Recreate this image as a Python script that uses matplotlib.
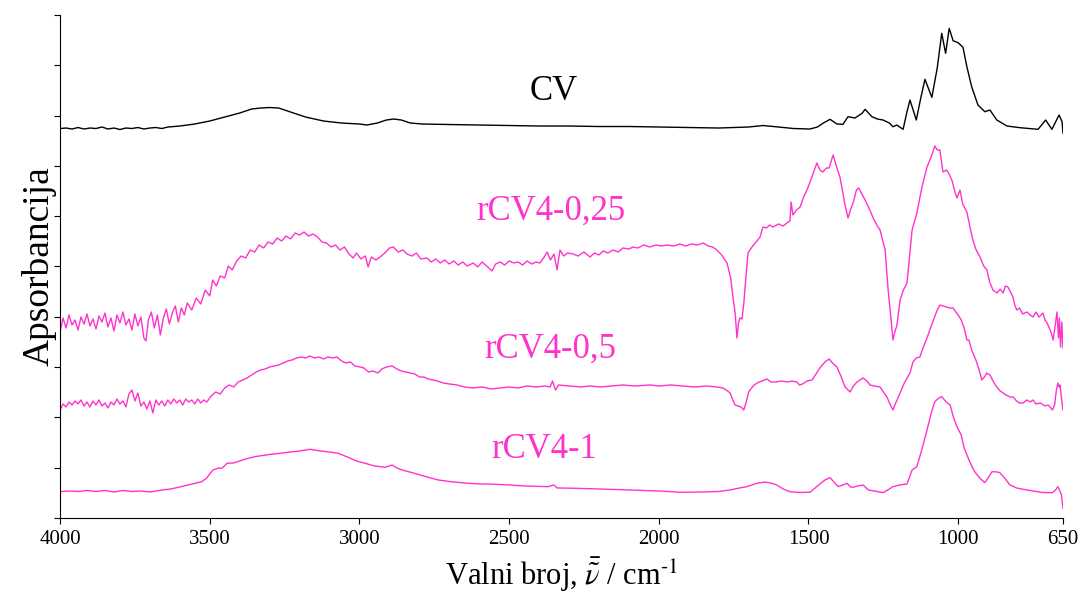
import numpy as np
import matplotlib
matplotlib.use("Agg")
import matplotlib.pyplot as plt

plt.rcParams['font.family'] = ['Liberation Serif', 'DejaVu Serif']
plt.rcParams['mathtext.fontset'] = 'stix'

# wavenumbers (cm-1) and stacked absorbance (arbitrary units, offsets included)
cv_wn = [4000, 3980, 3960, 3940, 3920, 3900, 3880, 3860, 3840, 3820, 3800, 3780, 3760, 3740,
         3720, 3700, 3680, 3660, 3640, 3600, 3550, 3500, 3450, 3400, 3360, 3330, 3300, 3270,
         3230, 3180, 3120, 3060, 3000, 2975, 2940, 2910, 2885, 2860, 2830, 2790, 2700, 2600,
         2500, 2400, 2300, 2200, 2100, 2000, 1900, 1800, 1700, 1652, 1600, 1550, 1495, 1470,
         1452, 1428, 1405, 1385, 1368, 1345, 1321, 1311, 1288, 1270, 1251, 1230, 1218, 1205,
         1184, 1172, 1161, 1140, 1125, 1111, 1088, 1070, 1055, 1042, 1030, 1017, 1000, 984,
         971, 955, 934, 911, 894, 871, 837, 793, 733, 708, 687, 663, 653, 650]
cv_a = [389.5, 390, 389, 390.5, 389, 390, 389.5, 391, 389, 390, 388.5, 390, 389.5, 390.5,
        389, 390, 390.5, 389.5, 391, 392, 394, 397, 401, 405, 409, 410, 410.5, 410,
        406, 401, 397, 395, 394, 393, 395, 398, 399, 398, 395, 394, 393.5, 393,
        392.5, 392, 392, 391.5, 391.5, 391, 390.5, 390, 391, 392.5, 391, 389.5, 389, 391,
        394.7, 398.7, 394, 393.7, 401.3, 400, 404.7, 408.7, 401.3, 399, 398, 395, 391.3, 393,
        388.7, 405, 418, 398, 420, 438.7, 420.7, 450, 484.7, 464.7, 489.7, 477.3, 475.3, 470.7,
        451.3, 431.3, 413, 406.3, 408, 398, 392, 390.3, 388.7, 398, 388.7, 403, 396.3, 385]

r025_wn = [4000, 3990, 3980, 3970, 3960, 3950, 3940, 3930, 3920, 3910, 3900, 3890, 3880, 3870,
           3860, 3850, 3840, 3830, 3820, 3810, 3800, 3790, 3780, 3770, 3760, 3750, 3740, 3730,
           3720, 3713, 3705, 3695, 3685, 3675, 3665, 3655, 3645, 3635, 3625, 3615, 3605, 3595,
           3585, 3575, 3560, 3545, 3530, 3515, 3500, 3490, 3478, 3465, 3450, 3438, 3425, 3410,
           3395, 3380, 3365, 3350, 3335, 3320, 3305, 3290, 3275, 3260, 3245, 3230, 3215, 3200,
           3185, 3170, 3155, 3140, 3125, 3110, 3095, 3080, 3065, 3050, 3035, 3021, 3010, 2995,
           2980, 2971, 2960, 2945, 2931, 2915, 2900, 2887, 2870, 2855, 2841, 2825, 2810, 2795,
           2774, 2760, 2745, 2730, 2715, 2700, 2685, 2670, 2655, 2640, 2620, 2605, 2590, 2575,
           2557, 2545, 2530, 2515, 2500, 2485, 2470, 2455, 2440, 2425, 2410, 2397, 2385, 2373,
           2362, 2350, 2340, 2330, 2318, 2305, 2286, 2270, 2250, 2230, 2215, 2200, 2185, 2170,
           2153, 2135, 2120, 2100, 2086, 2070, 2050, 2030, 2010, 1990, 1973, 1950, 1930, 1910,
           1890, 1870, 1852, 1835, 1820, 1806, 1790, 1772, 1760, 1752, 1745, 1739, 1734, 1729,
           1722, 1716, 1708, 1702, 1689, 1675, 1662, 1652, 1640, 1630, 1619, 1600, 1585, 1572,
           1562, 1558, 1552, 1540, 1528, 1515, 1505, 1490, 1472, 1462, 1452, 1440, 1431, 1418,
           1405, 1395, 1385, 1378, 1368, 1360, 1350, 1340, 1332, 1320, 1311, 1295, 1284, 1270,
           1261, 1250, 1244, 1234, 1224, 1218, 1210, 1205, 1194, 1183, 1171, 1160, 1154, 1138,
           1121, 1104, 1088, 1078, 1070, 1061, 1051, 1040, 1034, 1021, 1010, 1004, 994, 985,
           971, 960, 951, 940, 927, 915, 904, 895, 884, 870, 860, 850, 842, 834,
           825, 817, 810, 804, 795, 785, 770, 760, 750, 740, 730, 717, 710, 703,
           690, 683, 677, 670, 665, 662, 658, 654, 650]
r025_a = [186, 200, 190, 203, 193, 198, 188, 201, 194, 204, 192, 199, 189, 202,
          196, 205, 191, 200, 187, 203, 195, 206, 193, 199, 188, 204, 192, 201,
          180, 177, 198, 206, 190, 203, 183, 200, 209, 194, 205, 212, 196, 210,
          203, 215, 208, 220, 214, 228, 222, 238, 232, 242, 240, 252, 248, 257,
          262, 260, 268, 266, 273, 270, 276, 274, 280, 277, 282, 279, 285, 283,
          286, 282, 284, 281, 276, 275, 271, 273, 268, 271, 264, 260, 265, 259,
          262, 251, 261, 258, 261, 265, 270, 271, 266, 268, 264, 262, 265, 259,
          260, 256, 259, 255, 258, 254, 257, 253, 256, 252, 255, 251, 256, 252,
          247, 254, 256, 253, 257, 255, 256, 253, 257, 254, 256, 255, 260, 266,
          258, 264, 248, 268, 262, 265, 264, 262, 266, 261, 265, 263, 267, 265,
          268, 266, 270, 269, 271, 270, 273, 271, 273, 272, 273, 272, 274, 272,
          274, 273, 275, 272, 271, 268, 263, 255, 240, 220, 205, 180, 195, 200,
          199, 215, 245, 265, 271, 276, 281, 291, 290, 293, 291, 294, 292, 295,
          297, 316, 303, 308, 311, 322, 328, 340, 355, 348, 346, 350, 350, 363,
          350, 341, 325, 313, 300, 308, 316, 328, 330, 323, 318, 308, 300, 292,
          288, 275, 268, 228, 198, 178, 188, 192, 218, 228, 235, 270, 288, 305,
          331, 351, 363, 372, 368, 368, 346, 348, 346, 338, 325, 320, 328, 314,
          306, 290, 278, 268, 261, 252, 248, 236, 228, 225, 229, 225, 232, 231,
          226, 221, 212, 208, 210, 204, 206, 203, 201, 206, 201, 205, 198, 195,
          186, 178, 190, 206, 180, 200, 171, 196, 170]

r05_wn = [4000, 3990, 3980, 3970, 3960, 3950, 3940, 3930, 3920, 3910, 3900, 3890, 3880, 3870,
          3860, 3850, 3840, 3830, 3820, 3810, 3800, 3790, 3780, 3770, 3760, 3750, 3740, 3730,
          3720, 3710, 3700, 3690, 3680, 3670, 3660, 3650, 3640, 3630, 3620, 3610, 3600, 3590,
          3580, 3570, 3560, 3550, 3540, 3530, 3520, 3510, 3495, 3480, 3465, 3450, 3435, 3420,
          3405, 3390, 3375, 3360, 3345, 3330, 3315, 3300, 3285, 3270, 3255, 3240, 3225, 3210,
          3195, 3180, 3165, 3150, 3135, 3120, 3105, 3088, 3075, 3060, 3045, 3030, 3015, 2998,
          2985, 2970, 2955, 2938, 2925, 2910, 2891, 2875, 2860, 2845, 2831, 2815, 2800, 2785,
          2770, 2754, 2740, 2720, 2700, 2674, 2650, 2620, 2590, 2560, 2530, 2500, 2470, 2440,
          2410, 2380, 2363, 2355, 2345, 2335, 2300, 2260, 2230, 2196, 2160, 2120, 2080, 2029,
          2000, 1960, 1920, 1880, 1840, 1806, 1786, 1770, 1762, 1750, 1745, 1735, 1725, 1716,
          1708, 1700, 1695, 1685, 1672, 1655, 1639, 1625, 1610, 1590, 1570, 1555, 1539, 1530,
          1520, 1505, 1488, 1475, 1462, 1445, 1431, 1420, 1405, 1392, 1378, 1361, 1350, 1338,
          1318, 1305, 1295, 1280, 1261, 1250, 1238, 1228, 1218, 1210, 1194, 1180, 1161, 1151,
          1140, 1128, 1115, 1104, 1095, 1080, 1070, 1061, 1050, 1040, 1028, 1017, 1008, 1000,
          990, 980, 971, 964, 955, 941, 930, 921, 912, 905, 894, 880, 871, 860,
          850, 840, 827, 817, 805, 795, 784, 770, 760, 750, 740, 725, 710, 700,
          693, 685, 678, 672, 667, 663, 660, 655, 650]
r05_a = [108, 114, 111, 116, 113, 117, 114, 118, 112, 116, 111, 117, 113, 118,
         112, 115, 110, 116, 113, 119, 114, 117, 111, 124, 128, 117, 125, 112,
         116, 109, 117, 105, 118, 113, 117, 112, 118, 114, 119, 115, 118, 113,
         119, 116, 118, 114, 119, 115, 118, 116, 122, 126, 124, 130, 133, 131,
         136, 138, 140, 143, 146, 148, 149, 151, 152, 153, 155, 157, 158, 160,
         161, 160, 162, 160, 161, 159, 161, 160, 161, 157, 155, 156, 152, 151,
         150, 146, 147, 145, 149, 151, 152, 149, 147, 146, 145, 144, 141, 141,
         139, 138, 137, 135, 134, 133, 131, 130, 131, 129, 130, 131, 130, 132,
         131, 132, 131, 137, 128, 133, 132, 131, 132, 131, 132, 133, 132, 133,
         132, 133, 132, 131, 132, 131, 130, 127, 125, 116, 113, 112, 111, 108,
         116, 126, 128, 132, 135, 137, 139, 136, 136, 137, 136, 137, 136, 133,
         134, 137, 138, 144, 150, 156, 159, 155, 151, 142, 131, 126, 132, 136,
         140, 137, 133, 132, 131, 126, 121, 114, 108, 114, 125, 135, 145, 156,
         160, 161, 172, 180, 188, 200, 208, 213, 212, 211, 210, 210, 206, 203,
         198, 190, 178, 178, 168, 158, 148, 138, 141, 145, 143, 135, 131, 127,
         125, 123, 121, 121, 117, 115, 115, 118, 116, 118, 114, 115, 112, 113,
         111, 108, 113, 128, 135, 131, 133, 120, 108]

r1_wn = [4000, 3970, 3940, 3910, 3880, 3850, 3820, 3790, 3760, 3730, 3700, 3680, 3659, 3630,
         3600, 3572, 3545, 3526, 3510, 3500, 3489, 3470, 3459, 3442, 3420, 3400, 3380, 3349,
         3300, 3270, 3238, 3200, 3165, 3130, 3100, 3071, 3040, 3010, 2981, 2950, 2914, 2891,
         2875, 2858, 2820, 2780, 2737, 2700, 2650, 2600, 2570, 2500, 2450, 2400, 2370, 2350,
         2340, 2280, 2200, 2100, 2000, 1929, 1850, 1800, 1762, 1730, 1706, 1672, 1650, 1639,
         1620, 1606, 1585, 1562, 1530, 1495, 1478, 1462, 1445, 1428, 1415, 1401, 1385, 1371,
         1360, 1351, 1335, 1318, 1300, 1280, 1251, 1235, 1218, 1195, 1171, 1154, 1138, 1120,
         1104, 1090, 1078, 1065, 1055, 1040, 1027, 1015, 1004, 990, 980, 964, 950, 941,
         925, 911, 900, 887, 870, 861, 845, 827, 805, 784, 750, 720, 703, 685,
         675, 667, 660, 655, 650]
r1_a = [26.3, 27, 26.5, 27.5, 26.5, 27.5, 26, 27.5, 26.5, 27, 26, 27, 28, 29,
        31, 33, 35, 36.3, 40, 44, 48, 50, 49.7, 54.7, 55, 57, 59, 61.3,
        63.5, 64.5, 65.7, 67, 68.7, 67, 66, 64.7, 61, 57, 54.7, 52, 50.7, 53,
        50, 48, 45, 41.5, 38, 36.5, 35, 34, 34, 33, 32, 31.5, 31.3, 33,
        30, 29.7, 29, 28, 27, 25.7, 26, 26.5, 28, 30, 31.3, 34.7, 35.7, 35.7,
        34.5, 33, 29, 26.3, 25.5, 25.7, 30, 34, 38, 40.3, 36, 31.3, 33, 34.7,
        31, 30.7, 32, 33, 28, 27, 25.3, 28, 31.3, 33, 34, 48, 51.3, 70,
        88, 105, 116.3, 120, 121.3, 116, 113, 100, 91.3, 83, 70, 58, 49, 44.7,
        39, 35.3, 40, 46.3, 46, 45.3, 40, 33, 30, 28.7, 27, 25.5, 25.3, 25.3,
        28, 31.3, 27, 23, 9.7]

names = ['CV', 'rCV4-0,25', 'rCV4-0,5', 'rCV4-1']
label_pos = [(2350, 410), (2360, 290), (2363, 152), (2383, 52)]
xtick_vals = [4000, 3500, 3000, 2500, 2000, 1500, 1000, 650]

pink = '#ff33cc'

fig = plt.figure(figsize=(10.84, 5.94), dpi=100)
ax = fig.add_axes([0.0554, 0.128, 0.9252, 0.8467])

ax.plot(cv_wn, cv_a, color='black', lw=1.0)
ax.plot(r025_wn, r025_a, color=pink, lw=1.0)
ax.plot(r05_wn, r05_a, color=pink, lw=1.0)
ax.plot(r1_wn, r1_a, color=pink, lw=1.0)

colors = ['black', pink, pink, pink]
for name, (x, y), c in zip(names, label_pos, colors):
    ax.text(x, y, name, color=c, fontsize=25, ha='center', va='bottom')

ax.set_xlim(4000, 650)
ax.set_ylim(0, 503)
ax.set_xticks(xtick_vals)
ax.set_xticklabels([str(v) for v in xtick_vals], fontsize=15)
ax.set_yticks(np.arange(0, 504, 50.3))
ax.set_yticklabels([])
ax.tick_params(direction='out', length=4, width=0.8)
ax.tick_params(axis='x', pad=5)
ax.spines['top'].set_visible(False)
ax.spines['right'].set_visible(False)

ax.set_ylabel('Apsorbancija', fontsize=27, labelpad=-5)
ax.set_xlabel(r'Valni broj, $\bar{\tilde{\nu}}$ / cm$^{\text{-1}}$', fontsize=22, labelpad=4)

fig.savefig('out.png', dpi=100)
